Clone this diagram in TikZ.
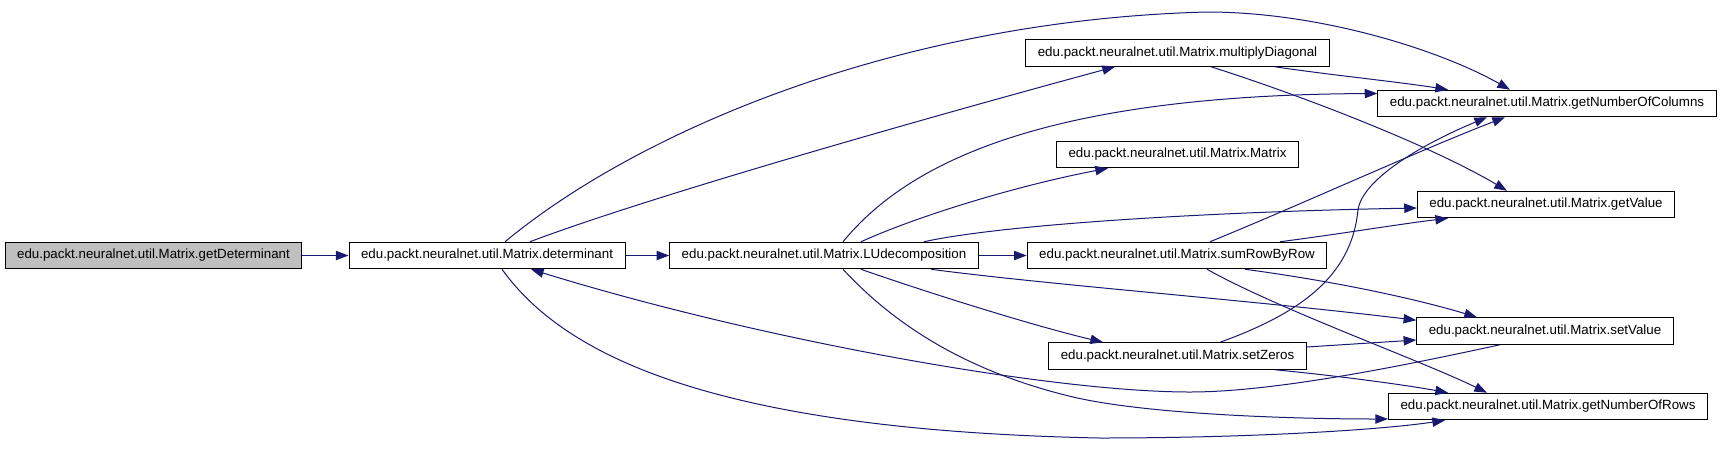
\documentclass[tikz,border=0pt]{standalone}
\usepackage{fontspec}
\setmainfont{Liberation Sans}
\usetikzlibrary{arrows.meta,calc}
\definecolor{edgeblue}{HTML}{191970}
\definecolor{rootgray}{HTML}{BFBFBF}
\begin{document}
\begin{tikzpicture}[x=0.75pt,y=-0.75pt,
  box/.style={draw=black,line width=0.75pt,fill=white,minimum height=19.9pt,
    inner xsep=9pt,inner ysep=0pt,font=\fontsize{10pt}{12pt}\selectfont},
  rootbox/.style={box,fill=rootgray},
  edge/.style={draw=edgeblue,line width=0.75pt,-{Triangle[length=9.5pt,width=7pt]}}]
\useasboundingbox (0,0) rectangle (1720,469);
% nodes
\node[rootbox] (gd)   at (153.5,255.5) {edu.packt.neuralnet.util.Matrix.getDeterminant};
\node[box] (det)  at (487,255.5)   {edu.packt.neuralnet.util.Matrix.determinant};
\node[box] (lu)   at (824,255.5)   {edu.packt.neuralnet.util.Matrix.LUdecomposition};
\node[box] (srr)  at (1177,255.5)  {edu.packt.neuralnet.util.Matrix.sumRowByRow};
\node[box] (md)   at (1177.5,53)   {edu.packt.neuralnet.util.Matrix.multiplyDiagonal};
\node[box] (mm)   at (1177.5,154.5){edu.packt.neuralnet.util.Matrix.Matrix};
\node[box] (sz)   at (1177.5,356)  {edu.packt.neuralnet.util.Matrix.setZeros};
\node[box] (gnoc) at (1547,103.5)  {edu.packt.neuralnet.util.Matrix.getNumberOfColumns};
\node[box] (gv)   at (1546,204.5)  {edu.packt.neuralnet.util.Matrix.getValue};
\node[box] (sv)   at (1545,331)    {edu.packt.neuralnet.util.Matrix.setValue};
\node[box] (gnor) at (1548,406.5)  {edu.packt.neuralnet.util.Matrix.getNumberOfRows};
% straight chain
\draw[edge] (gd.east) -- (det.west);
\draw[edge] (det.east) -- (lu.west);
\draw[edge] (lu.east) -- (srr.west);
% determinant
\draw[edge] ($(det.north)+(43,0)$) .. controls (640,200) and (900,125) .. ($(md.south)+(-62.5,0)$);
\draw[edge] ($(det.north)+(18,0)$) .. controls (640,130) and (900,20) .. (1207,12)
   .. controls (1320,12) and (1440,50) .. ($(gnoc.north)+(-37,0)$);
\draw[edge] ($(det.south)+(15,0)$) .. controls (560,350) and (700,430) .. (1100,438)
   .. controls (1250,438) and (1380,430) .. ($(gnor.south)+(-103,0)$);
\draw[edge] ($(sv.south)+(-45,0)$) .. controls (1420,362) and (1280,392) .. (1190,392)
   .. controls (1050,392) and (760,340) .. ($(det.south)+(44,0)$);
% LUdecomposition
\draw[edge] ($(lu.north)+(37,0)$) .. controls (920,215) and (1020,185) .. ($(mm.south)+(-69.5,0)$);
\draw[edge] ($(lu.north)+(19,0)$) .. controls (910,160) and (1050,95) .. ($(gnoc.west)+(0,-10)$);
\draw[edge] ($(lu.north)+(100,0)$) .. controls (1000,225) and (1200,212) .. ($(gv.west)+(0,3.5)$);
\draw[edge] ($(lu.south)+(107,0)$) .. controls (1050,285) and (1250,300) .. ($(sv.north west)+(0,3)$);
\draw[edge] ($(lu.south)+(37,0)$) .. controls (920,290) and (1030,325) .. ($(sz.north)+(-74.5,0)$);
\draw[edge] ($(lu.south)+(19,0)$) .. controls (890,320) and (960,370) .. (1073,397)
   .. controls (1150,415) and (1300,419) .. ($(gnor.west)+(0,12.5)$);
% multiplyDiagonal
\draw[edge] ($(md.south)+(97.5,0)$) .. controls (1330,75) and (1400,82) .. ($(gnoc.north)+(-99,0)$);
\draw[edge] ($(md.south)+(33.5,0)$) .. controls (1300,95) and (1430,145) .. ($(gv.north)+(-39,0)$);
% sumRowByRow
\draw[edge] ($(srr.north)+(33,0)$) .. controls (1300,205) and (1420,150) .. ($(gnoc.south)+(-42,0)$);
\draw[edge] ($(srr.north)+(103,0)$) .. controls (1340,234) and (1400,224) .. ($(gv.south)+(-98,0)$);
\draw[edge] ($(srr.south)+(68,0)$) .. controls (1340,282) and (1420,300) .. ($(sv.north)+(-68,0)$);
\draw[edge] ($(srr.south)+(30,0)$) .. controls (1280,310) and (1420,360) .. ($(gnor.north)+(-61,0)$);
% setZeros
\draw[edge] ($(sz.north)+(42.5,0)$) .. controls (1310,310) and (1352,270) .. (1358,210)
   .. controls (1362,180) and (1420,145) .. ($(gnoc.south)+(-60,0)$);
\draw[edge] ($(sz.east)+(0,-9)$) -- ($(sv.west)+(0,9)$);
\draw[edge] ($(sz.south)+(97.5,0)$) .. controls (1330,375) and (1400,384) .. ($(gnor.north)+(-100,0)$);
\end{tikzpicture}
\end{document}
